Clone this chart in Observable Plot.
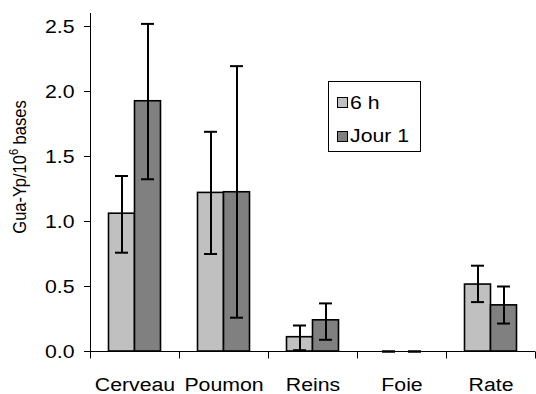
<!DOCTYPE html>
<html><head><meta charset="utf-8">
<script src="https://cdn.jsdelivr.net/npm/d3@7"></script>
<script src="https://cdn.jsdelivr.net/npm/@observablehq/plot@0.6"></script>
<style>
body{margin:0;background:#fff;}
#wrap{position:relative;width:536px;height:394px;font-family:"Liberation Sans",Arial,sans-serif;color:#000;}
#legend{position:absolute;left:328px;top:81px;width:91px;height:69px;border:1px solid #000;background:#fff;}
#legend .row{position:absolute;left:8px;height:22px;display:flex;align-items:center;font-size:19px;white-space:nowrap;}
#legend .sw{width:9px;height:9px;border:1px solid #000;margin-right:2px;}
#legend .lbl{display:inline-block;transform:scaleX(1.12);transform-origin:left center;}
</style></head>
<body><div id="wrap"></div>
<script>
const categories = ["Cerveau", "Poumon", "Reins", "Foie", "Rate"];
const series = ["6 h", "Jour 1"];
const colors = ["#c0c0c0", "#808080"];
const values6h = [1.06, 1.22, 0.11, 0, 0.515];
const valuesJ1 = [1.925, 1.225, 0.24, 0, 0.355];
const hi6h = [1.35, 1.69, 0.20, 0, 0.66];
const lo6h = [0.76, 0.75, 0.01, 0, 0.38];
const hiJ1 = [2.52, 2.195, 0.37, 0, 0.50];
const loJ1 = [1.325, 0.26, 0.09, 0, 0.215];
const yTicks = [0, 0.5, 1.0, 1.5, 2.0, 2.5];
const yLabelMain = "Gua-Yp/10";
const yLabelSup = "6";
const yLabelEnd = " bases";

const rows6h = categories.map((c, i) => ({cat: c, value: values6h[i], hi: hi6h[i], lo: lo6h[i]}));
const rowsJ1 = categories.map((c, i) => ({cat: c, value: valuesJ1[i], hi: hiJ1[i], lo: loJ1[i]}));

function axisLines(index, scales, values, dimensions) {
  const x = scales.x, y = scales.y;
  const n = categories.length;
  const bw = x.bandwidth ? x.bandwidth() : (dimensions.width - dimensions.marginLeft - dimensions.marginRight) / n;
  const g = d3.create("svg:g").attr("stroke", "#000").attr("stroke-width", 1);
  const x0 = x(categories[0]) + 0.5;
  const y0 = y(0) + 0.5;
  g.append("line").attr("x1", x0).attr("x2", x0).attr("y1", dimensions.marginTop).attr("y2", y0);
  const edges = categories.map(c => x(c)).concat([x(categories[n - 1]) + bw]);
  for (const e of edges) {
    const xe = Math.min(e + 0.5, dimensions.width - 0.5);
    g.append("line").attr("x1", xe).attr("x2", xe).attr("y1", y0).attr("y2", y0 + 7);
  }
  return g.node();
}

const plot = Plot.plot({
  width: 536, height: 394,
  marginLeft: 90, marginRight: 1, marginTop: 13, marginBottom: 43,
  style: {fontFamily: "'Liberation Sans', Arial, sans-serif", fontSize: "19px", color: "#000", background: "#fff"},
  x: {type: "band", domain: categories, padding: 0},
  y: {domain: [0, 2.6]},
  marks: [
    Plot.barY(rows6h.filter(d => d.value > 0), {x: "cat", y: "value", fill: colors[0], stroke: "#000", strokeWidth: 1.6, insetLeft: 18.5, insetRight: 44.5}),
    Plot.barY(rowsJ1.filter(d => d.value > 0), {x: "cat", y: "value", fill: colors[1], stroke: "#000", strokeWidth: 1.6, insetLeft: 44.5, insetRight: 18.5}),
    Plot.ruleY([0], {stroke: "#000", strokeWidth: 1}),
    axisLines,
    Plot.ruleX(rows6h, {x: "cat", y1: "lo", y2: "hi", dx: -13, stroke: "#000", strokeWidth: 2}),
    Plot.ruleX(rowsJ1, {x: "cat", y1: "lo", y2: "hi", dx: 13, stroke: "#000", strokeWidth: 2}),
    Plot.tickY(rows6h, {x: "cat", y: "hi", insetLeft: 25, insetRight: 51, stroke: "#000", strokeWidth: 2}),
    Plot.tickY(rows6h, {x: "cat", y: "lo", insetLeft: 25, insetRight: 51, stroke: "#000", strokeWidth: 2}),
    Plot.tickY(rowsJ1, {x: "cat", y: "hi", insetLeft: 51, insetRight: 25, stroke: "#000", strokeWidth: 2}),
    Plot.tickY(rowsJ1, {x: "cat", y: "lo", insetLeft: 51, insetRight: 25, stroke: "#000", strokeWidth: 2}),
    Plot.axisY({ticks: yTicks, tickSize: 6, tickPadding: 10, tickFormat: d3.format(".1f"), label: null, fontSize: 19}),
    Plot.axisX({tickSize: 0, tickPadding: 26, label: null, fontSize: 19})
  ]
});

const wrap = d3.select("#wrap");
wrap.node().appendChild(plot);

// widen the glyphs horizontally, as in the reference
d3.select(plot).selectAll("text").each(function () {
  const el = d3.select(this);
  const tr = el.attr("transform");
  if (tr) {
    el.attr("transform", tr + " scale(1.12,1)");
  } else {
    const x = +el.attr("x") || 0, y = +el.attr("y") || 0;
    el.attr("x", null).attr("y", null).attr("transform", `translate(${x},${y}) scale(1.12,1)`);
  }
});

// y-axis title with superscript
const t = d3.select(plot).append("text")
  .attr("transform", "translate(19,167) scale(1.14,1) rotate(-90)")
  .attr("text-anchor", "middle")
  .attr("dy", "0.35em")
  .attr("font-size", 16.5)
  .attr("fill", "#000");
t.append("tspan").text(yLabelMain);
t.append("tspan").attr("font-size", 11).attr("dy", -7).text(yLabelSup);
t.append("tspan").attr("dy", 7).text(yLabelEnd);

// legend
const legend = wrap.append("div").attr("id", "legend");
series.forEach((s, i) => {
  const row = legend.append("div").attr("class", "row").style("top", (9.5 + 33.5 * i) + "px");
  row.append("div").attr("class", "sw").style("background", colors[i]);
  row.append("span").attr("class", "lbl").text(s);
});
</script>
</body></html>
